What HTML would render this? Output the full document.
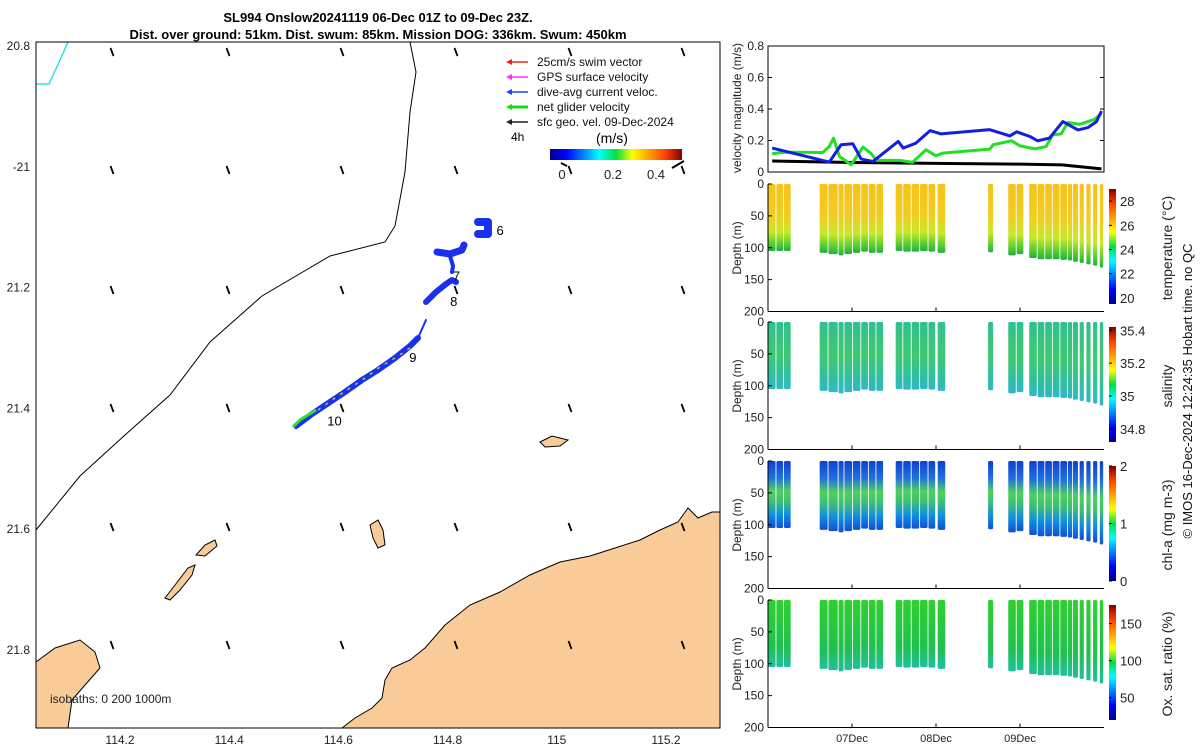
<!DOCTYPE html>
<html><head><meta charset="utf-8"><style>
body{margin:0;background:#fff;}
svg{display:block;font-family:"Liberation Sans","DejaVu Sans",sans-serif;}
</style></head><body>
<svg id="fig" width="1200" height="750" viewBox="0 0 1200 750" xmlns="http://www.w3.org/2000/svg">
<defs>
<linearGradient id="jet" x1="0" y1="0" x2="1" y2="0">
<stop offset="0" stop-color="#00008f"/><stop offset="0.125" stop-color="#0000ff"/><stop offset="0.375" stop-color="#00ffff"/><stop offset="0.5" stop-color="#00e040"/><stop offset="0.625" stop-color="#ffff00"/><stop offset="0.875" stop-color="#ff4000"/><stop offset="1" stop-color="#800000"/></linearGradient>
<linearGradient id="jetv" x1="0" y1="1" x2="0" y2="0">
<stop offset="0" stop-color="#00008f"/><stop offset="0.125" stop-color="#0000ff"/><stop offset="0.375" stop-color="#00ffff"/><stop offset="0.5" stop-color="#00e040"/><stop offset="0.625" stop-color="#ffff00"/><stop offset="0.875" stop-color="#ff4000"/><stop offset="1" stop-color="#800000"/></linearGradient>
<linearGradient id="gTemp" x1="0" y1="0" x2="0" y2="1"><stop offset="0" stop-color="#f7c21a"/><stop offset="0.45" stop-color="#f2cc20"/><stop offset="0.72" stop-color="#c8e82a"/><stop offset="0.88" stop-color="#60d030"/><stop offset="1" stop-color="#20b040"/></linearGradient>
<linearGradient id="gSal" x1="0" y1="0" x2="0" y2="1"><stop offset="0" stop-color="#30c090"/><stop offset="0.5" stop-color="#40c870"/><stop offset="0.8" stop-color="#30c0a0"/><stop offset="1" stop-color="#30b8c8"/></linearGradient>
<linearGradient id="gChl" x1="0" y1="0" x2="0" y2="1"><stop offset="0" stop-color="#1040d0"/><stop offset="0.25" stop-color="#2070e0"/><stop offset="0.45" stop-color="#50d060"/><stop offset="0.6" stop-color="#40c070"/><stop offset="0.8" stop-color="#1090e0"/><stop offset="1" stop-color="#1050d8"/></linearGradient>
<linearGradient id="gOx" x1="0" y1="0" x2="0" y2="1"><stop offset="0" stop-color="#30d030"/><stop offset="0.7" stop-color="#20c050"/><stop offset="1" stop-color="#20c0a0"/></linearGradient>
</defs>
</svg>
<script>
// ---- data ----
const velDaysBlue=[0.05,0.73,0.87,1.01,1.11,1.25,1.55,1.61,1.76,1.93,2.06,2.64,2.88,2.96,3.12,3.21,3.35,3.51,3.69,3.81,3.91,3.97];
const velBlue=[0.152,0.063,0.173,0.179,0.082,0.067,0.194,0.152,0.183,0.263,0.242,0.269,0.229,0.255,0.225,0.198,0.215,0.32,0.267,0.282,0.32,0.387];
const velDaysGreen=[0.05,0.2,0.65,0.73,0.78,0.85,0.99,1.13,1.23,1.29,1.57,1.72,1.88,2.0,2.08,2.64,2.68,2.9,3.0,3.18,3.31,3.39,3.49,3.57,3.71,3.89,3.97];
const velGreen=[0.116,0.126,0.124,0.162,0.215,0.099,0.046,0.158,0.116,0.074,0.074,0.061,0.141,0.103,0.12,0.145,0.173,0.198,0.166,0.147,0.162,0.236,0.242,0.314,0.303,0.335,0.373];
const velDaysBlack=[0.05,1,2,3,3.5,3.97];
const velBlack=[0.07,0.06,0.055,0.05,0.045,0.02];
const velTicks=[0,0.2,0.4,0.6,0.8];
const profStart=[0,0.1,0.19, 0.615,0.72,0.84,0.91,1.01,1.11,1.2,1.29, 1.52,1.61,1.71,1.81,1.91,2.02, 2.62, 2.86,2.96, 3.11,3.21,3.3,3.39,3.48,3.57,3.63,3.71,3.79,3.87,3.95];
const profEnd=[0.09,0.18,0.27, 0.71,0.83,0.9,1.0,1.1,1.19,1.28,1.37, 1.6,1.7,1.8,1.9,1.99,2.11, 2.68, 2.95,3.04, 3.2,3.29,3.38,3.47,3.56,3.62,3.69,3.76,3.84,3.92,3.99];
const profDepth=[105,105,105, 108,110,112,110,108,106,108,108, 105,106,106,105,106,108, 107, 112,110, 116,118,118,118,119,120,122,124,126,128,131];
const dayTicks=[1,2,3];
const dayLabels=["07Dec","08Dec","09Dec"];
const depthTicks=[0,50,100,150,200];
const lonTicks=[114.2,114.4,114.6,114.8,115,115.2];
const lonLabels=["114.2","114.4","114.6","114.8","115","115.2"];
const latTicks=[-20.8,-21,-21.2,-21.4,-21.6,-21.8];
const latLabels=["20.8","-21","21.2","21.4","21.6","21.8"];
const wpNames=["6","7","8","9","10"];
const wpLon=[114.875,114.795,114.79,114.715,114.565];
const wpLat=[-21.105,-21.18,-21.222,-21.315,-21.42];

const NS="http://www.w3.org/2000/svg";
const svg=document.getElementById('fig');
function el(tag,attrs,parent){const e=document.createElementNS(NS,tag);for(const k in attrs)e.setAttribute(k,attrs[k]);(parent||svg).appendChild(e);return e;}
function txt(s,attrs,parent){const e=el('text',attrs,parent);e.textContent=s;return e;}

// ---- map ----
const lonX=v=>120+(v-114.2)/0.2*109.2;
const latY=v=>46+(-20.8-v)/0.2*120.8;
const map=el('g',{});


el('rect',{x:36,y:42,width:684,height:686,fill:'#fff'},map);
const land1=el('polygon',{points:'342,728 355,718 372,708 382,698 385,680 392,668 410,660 425,648 445,625 470,605 500,592 530,575 560,562 590,556 615,548 640,540 660,530 678,522 688,508 698,518 712,512 720,512 720,728',fill:'#f9cb98',stroke:'#000','stroke-width':1},map);


const land2=el('polygon',{points:'36,662 55,648 80,640 95,652 100,668 85,685 72,700 68,728 36,728',fill:'#f9cb98',stroke:'#000','stroke-width':1},map);


const islands=[[ '196,555 205,545 215,540 217,546 205,556'],['165,598 175,585 188,568 195,565 192,575 180,590 170,600'],['540,442 552,436 568,440 560,446 545,447'],['370,525 378,520 383,530 385,545 378,548 373,538']];
islands.forEach(p=>{const i=el('polygon',{points:p[0],fill:'#f9cb98',stroke:'#000','stroke-width':1},map);

});
const isob=el('polyline',{points:'36,530 80,476 125,435 170,395 210,342 262,296 330,256 385,242 395,226 405,172 410,112 416,72 410,42',fill:'none',stroke:'#000','stroke-width':1},map);


const cyan=el('polyline',{points:'36,84 49,84 60,60 68,42',fill:'none',stroke:'#30e0e0','stroke-width':1.5},map);


// current arrows grid
const gx=[112,228,342,456,570,683], gy=[52,170,290,408,527,645];
gx.forEach((x,i)=>gy.forEach((y,j)=>{const a=el('line',{x1:x-1.5,y1:y-4,x2:x+1.5,y2:y+4,stroke:'#000','stroke-width':1.8},map);

}));
// glider track segments
const segs=[
 {pts:'296,426 312,414 330,402 345,392 362,380 378,370 395,358 410,346 418,338',w:6,c:'#1a30f0'},
 {pts:'418,338 426,320',w:2,c:'#1a30f0'},
 {pts:'426,302 436,292 446,284 452,280 456,282',w:6,c:'#1a30f0'},
 {pts:'437,252 450,254 462,250 464,245',w:7,c:'#1a30f0'},
 {pts:'450,256 453,266 452,272',w:4,c:'#1a30f0'},
 {pts:'478,222 488,222 488,234 478,234',w:8,c:'#1a30f0'}];
segs.forEach(s=>{const p=el('polyline',{points:s.pts,fill:'none',stroke:s.c,'stroke-width':s.w,'stroke-linejoin':'round','stroke-linecap':'round'},map);

});
const ng=el('polyline',{points:'316,410 300,420 293,427',fill:'none',stroke:'#30e030','stroke-width':3},map);


el('polyline',{points:'318,410 335,398 350,388 365,378 380,367 395,358 410,348',fill:'none',stroke:'#b0d020','stroke-width':1.5,'stroke-dasharray':'3 6'},map);
wpNames.forEach((n,i)=>{const t=txt(n,{x:lonX(wpLon[i])+8,y:latY(wpLat[i])+5,'font-size':13},map);

});
el('rect',{x:36,y:42,width:684,height:686,fill:'none',stroke:'#000','stroke-width':1},map);
lonTicks.forEach((v,i)=>{txt(lonLabels[i],{x:lonX(v),y:744,'font-size':12,'text-anchor':'middle',fill:'#222'},map);});
latTicks.forEach((v,i)=>{txt(latLabels[i],{x:30,y:latY(v)+4,'font-size':12,'text-anchor':'end',fill:'#222'},map);});
txt('isobaths: 0   200  1000m',{x:50,y:703,'font-size':12,fill:'#222','xml:space':'preserve'},map);
// title
const t1=txt('SL994 Onslow20241119 06-Dec 01Z to 09-Dec 23Z.',{x:378,y:22,'font-size':13,'font-weight':'bold','text-anchor':'middle'});


const t2=txt('Dist. over ground: 51km. Dist. swum: 85km. Mission DOG: 336km. Swum: 450km',{x:378,y:39,'font-size':13,'font-weight':'bold','text-anchor':'middle'});


// legend
const leg=el('g',{});


const legItems=[['25cm/s swim vector','#f02020'],['GPS surface velocity','#ff30ff'],['dive-avg current veloc.','#2040ff'],['net glider velocity','#10e010'],['sfc geo. vel. 09-Dec-2024','#222']];
legItems.forEach((it,i)=>{const y=62+i*15;
el('line',{x1:508,y1:y,x2:528,y2:y,stroke:it[1],'stroke-width':i==3?3:1.5},leg);
el('polygon',{points:`506,${y} 512,${y-3} 512,${y+3}`,fill:it[1]},leg);
const lt=txt(it[0],{x:537,y:y+4,'font-size':12,fill:'#111'},leg);

});
txt('4h',{x:511,y:141,'font-size':12},leg);
txt('(m/s)',{x:596,y:143,'font-size':14},leg);
const cb=el('rect',{x:550,y:149,width:132,height:11,fill:'url(#jet)'},leg);


[['0',562],['0.2',613],['0.4',656]].forEach(a=>txt(a[0],{x:a[1],y:179,'font-size':13,'text-anchor':'middle',fill:'#222'},leg));
el('line',{x1:561,y1:163,x2:567,y2:166,stroke:'#000','stroke-width':2},leg);
el('line',{x1:672,y1:168,x2:684,y2:161,stroke:'#000','stroke-width':2},leg);

// ---- right panels ----
const X0=768,X1=1104;
const dayX=d=>X0+d/4*(X1-X0);
const vp=el('g',{});


const vY=v=>172-v/0.8*126;
el('rect',{x:X0,y:46,width:X1-X0,height:126,fill:'#fff',stroke:'#000'},vp);
velTicks.forEach(v=>{el('line',{x1:X0,y1:vY(v),x2:X0+4,y2:vY(v),stroke:'#000'},vp);el('line',{x1:X1,y1:vY(v),x2:X1-4,y2:vY(v),stroke:'#000'},vp);
txt(String(v),{x:X0-4,y:vY(v)+4,'font-size':12,'text-anchor':'end',fill:'#222'},vp);});
function line(days,vals,col,w,name){const p=el('polyline',{points:days.map((d,i)=>dayX(d)+','+vY(vals[i])).join(' '),fill:'none',stroke:col,'stroke-width':w,'stroke-linejoin':'round'},vp);

}
line(velDaysBlack,velBlack,'#000',3,'geo-velocity-line');
line(velDaysGreen,velGreen,'#20e020',3,'net-glider-velocity-line');
line(velDaysBlue,velBlue,'#1020e0',3,'dive-avg-current-line');
txt('velocity magnitude (m/s)',{transform:'translate(741,108) rotate(-90)','font-size':12,'text-anchor':'middle',fill:'#222'},vp);

const panels=[
 {top:184,grad:'gTemp',name:'temperature',label:'temperature (°C)',cbTicks:[20,22,24,26,28],cbMin:19.5,cbMax:29},
 {top:322,grad:'gSal',name:'salinity',label:'salinity',cbTicks:[34.8,35,35.2,35.4],cbMin:34.72,cbMax:35.42},
 {top:461,grad:'gChl',name:'chl-a',label:'chl-a (mg m-3)',cbTicks:[0,1,2],cbMin:0,cbMax:2},
 {top:600,grad:'gOx',name:'oxygen',label:'Ox. sat. ratio (%)',cbTicks:[50,100,150],cbMin:20,cbMax:175}];
panels.forEach((p,pi)=>{
 const g=el('g',{});
 
 
 const H=127.5, dY=d=>p.top+d/200*H;
 el('rect',{x:X0,y:p.top,width:X1-X0,height:H,fill:'#fff'},g);
 profStart.forEach((s,i)=>{const r=el('rect',{x:dayX(s),y:p.top,width:dayX(profEnd[i])-dayX(s),height:dY(profDepth[i])-p.top,fill:`url(#${p.grad})`,rx:1.5},g);
 
 });
 el('line',{x1:X0,y1:p.top,x2:X0,y2:p.top+H,stroke:'#000'},g);
 el('line',{x1:X0,y1:p.top+H,x2:X1,y2:p.top+H,stroke:'#000'},g);
 depthTicks.forEach(d=>{el('line',{x1:X0,y1:dY(d),x2:X0+4,y2:dY(d),stroke:'#000'},g);
  txt(String(d),{x:X0-4,y:dY(d)+4,'font-size':12,'text-anchor':'end',fill:'#222'},g);});
 dayTicks.forEach(d=>el('line',{x1:dayX(d),y1:p.top+H,x2:dayX(d),y2:p.top+H-4,stroke:'#000'},g));
 txt('Depth (m)',{transform:`translate(741,${p.top+64}) rotate(-90)`,'font-size':12,'text-anchor':'middle',fill:'#222'},g);
 const cbTop=p.top+5,cbH=115;
 const c=el('rect',{x:1109,y:cbTop,width:7,height:cbH,fill:'url(#jetv)'},g);
 
 
 p.cbTicks.forEach(v=>{const y=cbTop+cbH-(v-p.cbMin)/(p.cbMax-p.cbMin)*cbH;
  el('line',{x1:1109,y1:y,x2:1112,y2:y,stroke:'#000'},g);
  txt(String(v),{x:1120,y:y+5,'font-size':13,fill:'#222'},g);});
 txt(p.label,{transform:`translate(1172,${p.top+64}) rotate(-90)`,'font-size':14,'text-anchor':'middle',fill:'#222'},g);
});
dayTicks.forEach((d,i)=>{const t=txt(dayLabels[i],{x:dayX(d),y:742,'font-size':11,'text-anchor':'middle',fill:'#222'});

});
const cr=txt('© IMOS 16-Dec-2024 12:24:35 Hobart time. no QC',{transform:'translate(1192,391) rotate(-90)','font-size':13,'text-anchor':'middle',fill:'#111'});


</script>
</body></html>
